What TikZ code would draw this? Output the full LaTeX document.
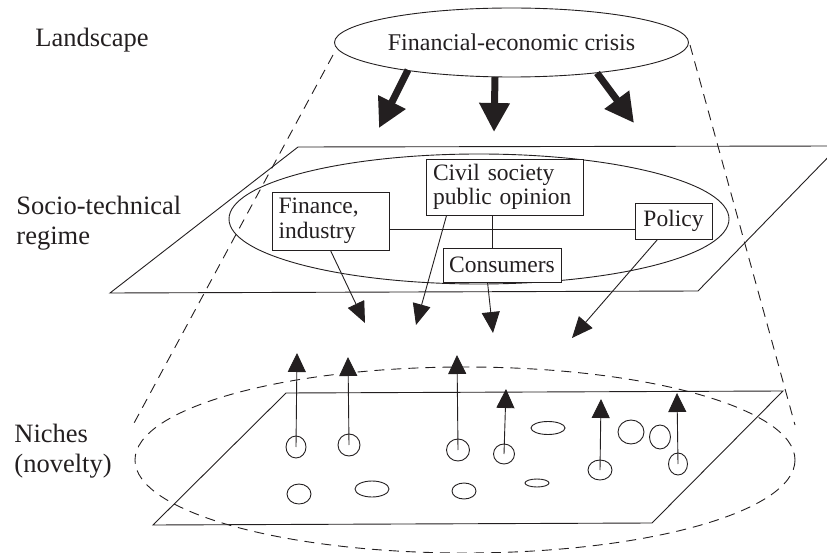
\documentclass[tikz,border=0pt]{standalone}
\usepackage{fontspec}
\setmainfont{Liberation Serif}
\usetikzlibrary{arrows.meta,shapes.geometric,calc}
\definecolor{ink}{RGB}{35,31,32}
\begin{document}
\begin{tikzpicture}[x=1pt,y=-1pt,line width=0.9pt,color=ink,
  layerlabel/.style={font=\fontsize{26.5}{30}\selectfont,inner sep=0pt,anchor=base west,align=left},
  actor/.style={draw,fill=white,font=\fontsize{23.5}{24.5}\selectfont,inner sep=0pt},
  cone/.style={dash pattern=on 10pt off 7pt},
  push/.style={line width=7pt,-{Triangle[width=29pt,length=29pt]}},
  influence/.style={-{Triangle[width=18pt,length=21pt]}},
  emerge/.style={-{Triangle[width=18pt,length=19pt]}},
  seed/.style={draw,ellipse,inner sep=0pt}]
\clip (0,0) rectangle (827,553);

% layer labels (base anchor sits on the last line)
\node[layerlabel] (landscape) at (35,47) {Landscape};
\node[layerlabel] (regimelabel) at (16,245) {Socio-technical\\regime};
\node[layerlabel] (nicheslabel) at (14,472) {Niches\\(novelty)};

% landscape pressure
\node[draw,ellipse,minimum width=354pt,minimum height=69pt,inner sep=0pt,
      font=\fontsize{24}{26}\selectfont] (crisis) at (511.5,42.5) {Financial-economic crisis};

% outline of the cone
\draw[cone] (333,55) -- (133,425);
\draw[cone] (690,45) -- (795,425);
\draw[cone] (465,460) ellipse [x radius=330, y radius=93];

% regime plane and its ellipse
\draw (110,293) -- (298,147) -- (839,146) -- (698,291) -- cycle;
\draw (479,219) ellipse [x radius=250, y radius=65];

% niche plane
\draw (153,525) -- (286,393) -- (783,391) -- (652,523) -- cycle;

% regime actors
\node[actor,text width=104pt,inner xsep=6.5pt,align=left,minimum height=58pt] (fin) at (330.5,221) {Finance,\\industry};
\node[actor,text width=143pt,inner xsep=7pt,align=left,minimum height=56pt] (civ) at (504.5,187) {Civil society\\public opinion};
\node[actor,minimum width=77pt,minimum height=36pt] (pol) at (673.5,221) {Policy};
\node[actor,minimum width=118pt,minimum height=34pt] (cons) at (502,265) {Consumers};

\coordinate (hl) at ($(fin.south east)+(0,-21)$);
\draw (hl) -- (hl -| pol.west);
\coordinate (vl) at ($(civ.south west)+(67,0)$);
\draw (vl) -- (vl |- cons.north);

% landscape pressure arrows
\coordinate (p1s) at (408,70);  \coordinate (p1e) at (379,128);
\coordinate (p2s) at (495,77);  \coordinate (p2e) at (494,132);
\coordinate (p3s) at (597,73);  \coordinate (p3e) at (634,123);
\draw[push] (p1s) -- (p1e);
\draw[push] (p2s) -- (p2e);
\draw[push] (p3s) -- (p3e);

% regime influence on niches
\coordinate (r1) at (365,323);
\coordinate (r2) at (416,325);
\coordinate (r3) at (493,333);
\coordinate (r4) at (572,338);
\draw[influence] (fin.south) -- (r1);
\draw[influence] ($(civ.south west)+(21,0)$) -- (r2);
\draw[influence] ($(cons.south west)+(45,0)$) -- (r3);
\draw[influence] ($(pol.south west)+(23,0)$) -- (r4);

% niches
\node[seed,minimum width=20pt,minimum height=22pt] (a1) at (296,447) {};
\node[seed,minimum width=22pt,minimum height=22pt] (a2) at (349,445) {};
\node[seed,minimum width=23pt,minimum height=22pt] (a3) at (458,450) {};
\node[seed,minimum width=21pt,minimum height=20pt] (a4) at (504,454) {};
\node[seed,minimum width=24pt,minimum height=20pt] (a5) at (600,470) {};
\node[seed,minimum width=19pt,minimum height=22pt] (a6) at (678,464) {};
\node[seed,minimum width=34pt,minimum height=13pt] (b1) at (548,428) {};
\node[seed,minimum width=26pt,minimum height=24pt] (b2) at (631,432) {};
\node[seed,minimum width=21pt,minimum height=24pt] (b3) at (660,437) {};
\node[seed,minimum width=24pt,minimum height=20pt] (b4) at (299,494) {};
\node[seed,minimum width=34pt,minimum height=16pt] (b5) at (372,489) {};
\node[seed,minimum width=24pt,minimum height=16pt] (b6) at (464,491) {};
\node[seed,minimum width=24pt,minimum height=8pt] (b7) at (537,483) {};

% niche innovations rising
\coordinate (t1) at (297,353);
\coordinate (t2) at (348,357);
\coordinate (t3) at (457,355);
\coordinate (t4) at (506,389);
\coordinate (t5) at (601,399);
\coordinate (t6) at (677,393);
\draw[emerge] (a1.center) -- (t1);
\draw[emerge] (a2.center) -- (t2);
\draw[emerge] (a3.center) -- (t3);
\draw[emerge] (a4.center) -- (t4);
\draw[emerge] (a5.center) -- (t5);
\draw[emerge] (a6.center) -- (t6);
\end{tikzpicture}
\end{document}
